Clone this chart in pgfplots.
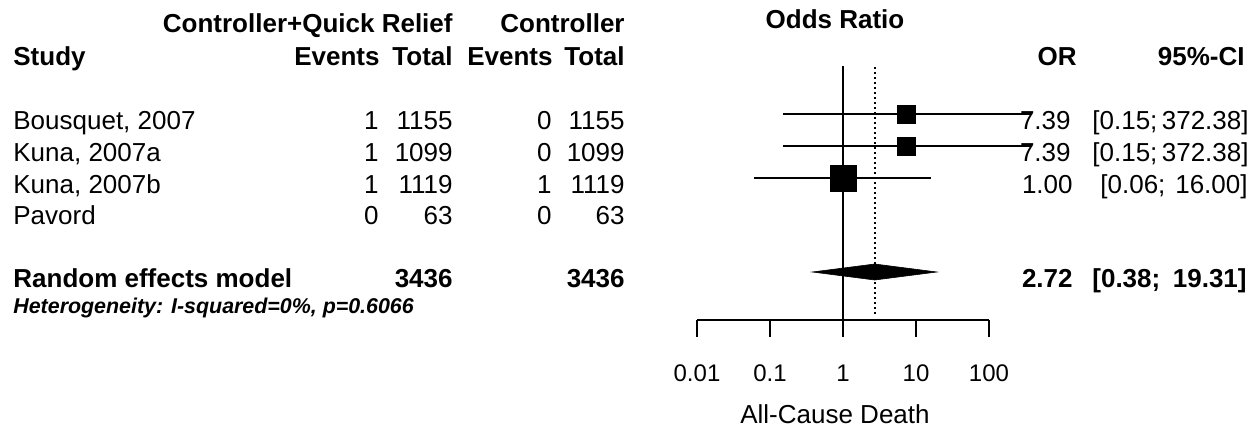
\documentclass[border=0pt]{standalone}
\usepackage{pgfplots}
\pgfplotsset{compat=1.18}
\usepackage{fontspec}
\setmainfont{Liberation Sans}
\begin{document}
\begin{tikzpicture}
\begin{scope}[x=0.5pt,y=-0.5pt]
\path (0,0) rectangle (1260,429);
\tikzset{
 lt/.style={anchor=base west,inner sep=0pt,font=\fontsize{13}{15}\selectfont},
 rt/.style={anchor=base east,inner sep=0pt,font=\fontsize{13}{15}\selectfont},
 bl/.style={lt,font=\fontsize{13}{15}\selectfont\bfseries},
 br/.style={rt,font=\fontsize{13}{15}\selectfont\bfseries}}
% headers
\node[br] at (453,32) {Controller+Quick Relief};
\node[br] at (625,32) {Controller};
\node[anchor=base,inner sep=0pt,font=\fontsize{13}{15}\selectfont\bfseries] at (835,28) {Odds Ratio};
\node[bl] at (13,65) {Study};
\node[br] at (380,65) {Events}; \node[br] at (453,65) {Total};
\node[br] at (553,65) {Events}; \node[br] at (625,65) {Total};
\node[br] at (1077,65) {OR};
\node[br] at (1245,65) {95\%-CI};
% rows
\node[lt] at (13,129) {Bousquet, 2007};
\node[lt] at (13,161) {Kuna, 2007a};
\node[lt] at (13,193) {Kuna, 2007b};
\node[lt] at (13,224) {Pavord};
\node[rt] at (379,129) {1}; \node[rt] at (453,129) {1155};
\node[rt] at (552,129) {0}; \node[rt] at (625,129) {1155};
\node[rt] at (379,161) {1}; \node[rt] at (453,161) {1099};
\node[rt] at (552,161) {0}; \node[rt] at (625,161) {1099};
\node[rt] at (379,193) {1}; \node[rt] at (453,193) {1119};
\node[rt] at (552,193) {1}; \node[rt] at (625,193) {1119};
\node[rt] at (379,224) {0}; \node[rt] at (453,224) {63};
\node[rt] at (552,224) {0}; \node[rt] at (625,224) {63};
\node[bl] at (13,287) {Random effects model};
\node[br] at (453,287) {3436};
\node[br] at (625,287) {3436};
\node[anchor=base west,inner sep=0pt,font=\fontsize{10.7}{12}\selectfont\bfseries\itshape] at (13,313) {Heterogeneity: I-squared=0\%, p=0.6066};
% right columns
\node[rt] at (1071,129) {7.39}; \node[lt] at (1092,129) {[0.15;}; \node[rt] at (1249,129) {372.38]};
\node[rt] at (1071,161) {7.39}; \node[lt] at (1092,161) {[0.15;}; \node[rt] at (1249,161) {372.38]};
\node[rt] at (1073,193) {1.00}; \node[lt] at (1100,193) {[0.06;}; \node[rt] at (1248,193) {16.00]};
\node[br] at (1073,287) {2.72}; \node[bl] at (1092,287) {[0.38;}; \node[br] at (1247,287) {19.31]};
% x label
\node[anchor=base,inner sep=0pt,font=\fontsize{13}{15}\selectfont] at (835,423) {All-Cause Death};
\end{scope}
\begin{axis}[at={(348.5pt,-160pt)},anchor=south west,
  scale only axis, width=146pt, height=130pt,
  xmode=log, xmin=0.01, xmax=100, ymin=-320, ymax=-60,
  axis x line=bottom, axis y line=none,
  x axis line style={-,line width=1pt},
  clip=false,
  xtick={0.01,0.1,1,10,100}, xticklabels={0.01,0.1,1,10,100},
  xminorticks=false,
  tick align=outside, major tick length=8.5pt,
  every tick/.style={black,line width=1pt},
  xticklabel style={font=\fontsize{12}{14}\selectfont, yshift=-10.5pt},
]
\addplot[line width=1pt] coordinates {(1,-66) (1,-320)};
\addplot[line width=0.8pt, dash pattern=on 1pt off 1.5pt] coordinates {(2.72,-67) (2.72,-316)};
\addplot[line width=0.75pt] coordinates {(0.15,-114) (372.38,-114)};
\addplot[line width=0.75pt] coordinates {(0.15,-146) (372.38,-146)};
\addplot[line width=0.75pt] coordinates {(0.06,-178) (16.00,-178)};
\addplot[only marks, mark=square*, mark size=4.6pt, black, mark options={line width=0.3pt}] coordinates {(7.39,-114) (7.39,-146)};
\addplot[only marks, mark=square*, mark size=6.6pt, black, mark options={line width=0.3pt}] coordinates {(1.00,-178)};
\addplot[fill=black, draw=black, line width=0.3pt] coordinates {(0.38,-272) (2.72,-264) (19.31,-272) (2.72,-280)} -- cycle;
\end{axis}
\end{tikzpicture}
\end{document}
